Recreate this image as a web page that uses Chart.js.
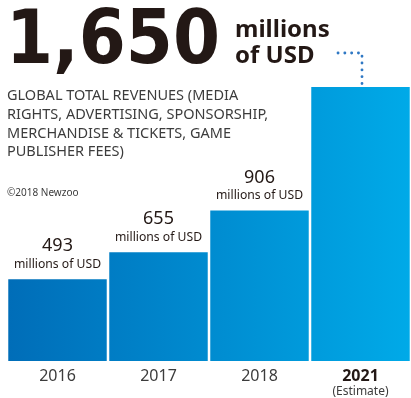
<!DOCTYPE html>
<html>
<head>
<meta charset="utf-8">
<script src="https://cdn.jsdelivr.net/npm/chart.js@4.4.1/dist/chart.umd.min.js"></script>
<style>
  html, body { margin: 0; padding: 0; background: #fff; }
  #wrap { position: relative; width: 411px; height: 398px; }
</style>
</head>
<body>
<div id="wrap"><canvas id="revenueChart"></canvas></div>
<script>
// esports revenues, millions of USD
const years = ['2016', '2017', '2018', '2021'];
const revenues = [493, 655, 906, 1650];
const unitLabel = 'millions of USD';
const estimateYear = '2021';
const subtitleLines = [
  'GLOBAL TOTAL REVENUES (MEDIA',
  'RIGHTS, ADVERTISING, SPONSORSHIP,',
  'MERCHANDISE & TICKETS, GAME',
  'PUBLISHER FEES)'
];
const sourceNote = '\u00a92018 Newzoo';

const textDark = '#231815';
const textGrey = '#3c3c3c';
const bodyFont = '"Noto Sans", "Open Sans", sans-serif';

// horizontal blue gradient running across all bars
function barGradient(ctx) {
  const chart = ctx.chart;
  const area = chart.chartArea;
  if (!area) return '#0088d0';
  const g = chart.ctx.createLinearGradient(area.left, 0, area.right, 0);
  g.addColorStop(0, '#006db8');
  g.addColorStop(1, '#00aae8');
  return g;
}

// headline, subtitle, value labels, dotted connector, "(Estimate)"
const annotations = {
  id: 'annotations',
  afterDraw(chart) {
    const c = chart.ctx;
    const meta = chart.getDatasetMeta(0);
    const last = revenues.length - 1;
    c.save();

    // big headline figure from the 2021 value
    c.fillStyle = textDark;
    c.textAlign = 'left';
    c.textBaseline = 'alphabetic';
    c.font = 'bold 75px "DejaVu Sans", sans-serif';
    c.fillText(revenues[last].toLocaleString('en-US'), 6, 63, 214);
    c.font = 'bold 24px ' + bodyFont;
    c.fillText('millions', 235, 37);
    c.fillText('of USD', 235, 63);

    // subtitle block
    c.fillStyle = textGrey;
    c.font = '14.5px ' + bodyFont;
    c.textBaseline = 'middle';
    subtitleLines.forEach((line, i) => c.fillText(line, 7, 96 + i * 18.7));
    c.font = '10px ' + bodyFont;
    c.fillText(sourceNote, 7, 193);

    // value labels above the bars (not the estimate)
    c.textAlign = 'center';
    c.fillStyle = textDark;
    for (let i = 0; i < last; i++) {
      const bar = meta.data[i];
      c.font = '18px ' + bodyFont;
      c.fillText(String(revenues[i]), bar.x, bar.y - 33);
      c.font = '12.2px ' + bodyFont;
      c.fillText(unitLabel, bar.x, bar.y - 15);
    }

    // dotted line from headline down to the 2021 bar
    const top = meta.data[last];
    const lx = top.x + 1.5;
    c.strokeStyle = '#2f78c4';
    c.lineWidth = 2.8;
    c.lineCap = 'round';
    c.setLineDash([0.1, 6.7]);
    c.beginPath();
    c.moveTo(338, 53);
    c.lineTo(lx, 53);
    c.lineTo(lx, top.y - 2);
    c.stroke();
    c.setLineDash([]);

    // "(Estimate)" under the 2021 tick
    c.fillStyle = textGrey;
    c.font = '12px ' + bodyFont;
    c.fillText('(Estimate)', chart.scales.x.getPixelForValue(last), 392);
    c.restore();
  }
};

new Chart(document.getElementById('revenueChart'), {
  type: 'bar',
  data: {
    labels: years,
    datasets: [{
      data: revenues,
      backgroundColor: barGradient,
      borderWidth: 0,
      barPercentage: 0.975,
      categoryPercentage: 1
    }]
  },
  options: {
    responsive: true,
    maintainAspectRatio: false,
    animation: false,
    layout: { padding: { left: 7, right: 0, top: 87, bottom: 0 } },
    plugins: { legend: { display: false }, tooltip: { enabled: false } },
    scales: {
      x: {
        grid: { display: false, drawTicks: false },
        border: { display: false },
        afterFit: s => { s.height = 37; },
        ticks: {
          padding: 6,
          color: ctx => years[ctx.index] === estimateYear ? textDark : textGrey,
          font: ctx => ({
            family: bodyFont,
            size: 16,
            weight: years[ctx.index] === estimateYear ? 'bold' : 'normal'
          })
        }
      },
      y: { display: false, min: 0, max: 1650 }
    }
  },
  plugins: [annotations]
});
</script>
</body>
</html>
